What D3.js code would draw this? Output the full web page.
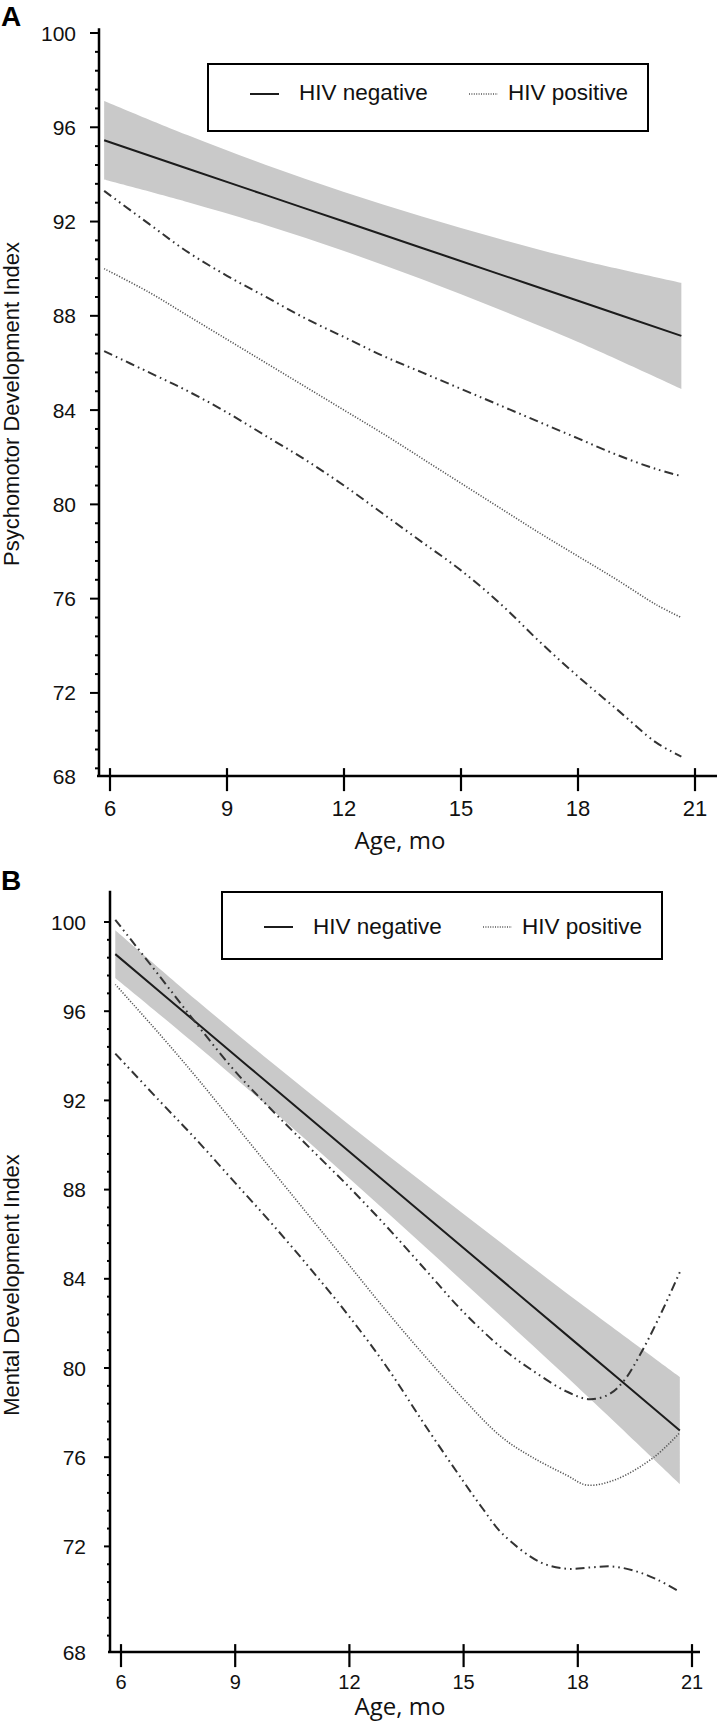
<!DOCTYPE html>
<html><head><meta charset="utf-8">
<script src="https://cdn.jsdelivr.net/npm/d3@7"></script>
<style>body{margin:0;background:#fff}svg{display:block}</style>
</head><body>
<svg id="c" width="717" height="1723"></svg>
<script>
// ---------- DATA ----------
const xTicks = [6, 9, 12, 15, 18, 21];
const yTicks = [100, 96, 92, 88, 84, 80, 76, 72];
const legendLabels = ["HIV negative", "HIV positive"];

// Panel A: Psychomotor Development Index
const aAges      = [5.85, 8, 10, 12, 14, 16, 18, 20.65];
const aNeg       = [95.45, 94.24, 93.12, 92.0, 90.88, 89.76, 88.64, 87.15];
const aNegUpper  = [97.12, 95.66, 94.40, 93.25, 92.21, 91.26, 90.39, 89.40];
const aNegLower  = [93.78, 92.82, 91.84, 90.75, 89.55, 88.26, 86.89, 84.90];
const aPosAges   = [5.85, 7, 8, 9, 10, 11, 12, 13, 14, 15, 16, 17, 18, 19, 20, 20.65];
const aPos       = [90.0, 89.0, 88.0, 87.0, 86.0, 85.0, 84.0, 83.0, 81.95, 80.9, 79.85, 78.8, 77.8, 76.8, 75.75, 75.2];
const aPosUpper  = [93.3, 91.9, 90.7, 89.7, 88.8, 87.9, 87.1, 86.3, 85.6, 84.9, 84.2, 83.5, 82.8, 82.1, 81.5, 81.2];
const aPosLower  = [86.5, 85.6, 84.8, 83.9, 82.9, 81.9, 80.8, 79.6, 78.4, 77.2, 75.8, 74.2, 72.7, 71.3, 69.9, 69.3];

// Panel B: Mental Development Index
const bAges      = [5.85, 8, 10, 12, 14, 16, 18, 20.68];
const bNeg       = [98.56, 95.46, 92.58, 89.7, 86.82, 83.94, 81.06, 77.2];
const bNegUpper  = [99.63, 96.47, 93.64, 90.9, 88.23, 85.59, 82.98, 79.6];
const bNegLower  = [97.49, 94.45, 91.52, 88.5, 85.41, 82.29, 79.14, 74.8];
const bPosAges   = [5.85, 7, 8, 9, 10, 11, 12, 13, 14, 15, 16, 16.8, 17.7, 18.24, 19, 20, 20.68];
const bPos       = [97.2, 95.0, 93.0, 90.9, 88.8, 86.7, 84.6, 82.5, 80.5, 78.6, 76.9, 76.0, 75.2, 74.75, 75.0, 76.0, 77.1];
const bUpAges    = [5.85, 7, 8, 9, 10, 11, 12, 13, 14, 15, 16, 16.8, 17.7, 18.3, 18.8, 19.2, 19.7, 20.2, 20.68];
const bPosUpper  = [100.1, 97.6, 95.4, 93.3, 91.5, 89.8, 88.1, 86.3, 84.4, 82.5, 80.9, 79.9, 78.95, 78.6, 78.8, 79.4, 80.8, 82.5, 84.3];
const bLoAges    = [5.85, 7, 8, 9, 10, 11, 12, 13, 14, 15, 15.5, 16, 17, 17.7, 18.3, 18.9, 19.5, 20.1, 20.68];
const bPosLower  = [94.1, 92.0, 90.2, 88.3, 86.4, 84.4, 82.3, 80.0, 77.4, 74.9, 73.7, 72.6, 71.3, 71.0, 71.05, 71.1, 70.9, 70.5, 69.96];

// ---------- DRAW ----------
const svg = d3.select("#c");
const FONT = "'Liberation Sans', Arial, sans-serif";
const dashDot = "9,4,1.6,4,1.6,4";
const dotted = "1.2,1.6";

function panel(cfg) {
  const g = svg.append("g");
  const x = d3.scaleLinear().domain([6, 21]).range(cfg.xRange);
  const y = d3.scaleLinear().domain([68, 100]).range(cfg.yRange);
  const axisY = y(cfg.yMin), axisTop = y(cfg.yMax);

  const area = d3.area().x((d, i) => x(cfg.ages[i])).y0((d, i) => y(cfg.lower[i])).y1((d, i) => y(cfg.upper[i]))
    .curve(d3.curveCatmullRom.alpha(0.5));
  g.append("path").datum(cfg.ages).attr("d", area).attr("fill", "#c9c9c9");

  const line = (ages, vals) => d3.line().x((d, i) => x(ages[i])).y((d, i) => y(vals[i]))
    .curve(d3.curveCatmullRom.alpha(0.5))(vals);

  g.append("path").attr("d", line(cfg.ages, cfg.neg)).attr("fill", "none").attr("stroke", "#1c1c1c").attr("stroke-width", 2);
  g.append("path").attr("d", line(cfg.posAges, cfg.pos)).attr("fill", "none").attr("stroke", "#555").attr("stroke-width", 1.6).attr("stroke-dasharray", dotted);
  g.append("path").attr("d", line(cfg.upAges, cfg.posUp)).attr("fill", "none").attr("stroke", "#333").attr("stroke-width", 2).attr("stroke-dasharray", dashDot);
  g.append("path").attr("d", line(cfg.loAges, cfg.posLo)).attr("fill", "none").attr("stroke", "#333").attr("stroke-width", 2).attr("stroke-dasharray", dashDot);

  // y axis
  const ax = cfg.xRange0;
  g.append("line").attr("x1", ax).attr("x2", ax).attr("y1", axisTop).attr("y2", axisY).attr("stroke", "#000").attr("stroke-width", 2.5);
  const minor = d3.range(0, 41).map(i => 68 + i * 0.8).filter(v => y(v) <= axisY - 2 && y(v) >= axisTop + 2 && !yTicks.includes(Math.round(v * 10) / 10));
  g.selectAll(null).data(minor).enter().append("line")
    .attr("x1", ax - cfg.minorLen).attr("x2", ax).attr("y1", d => y(d)).attr("y2", d => y(d)).attr("stroke", "#000").attr("stroke-width", 2);
  g.selectAll(null).data(yTicks).enter().append("line")
    .attr("x1", ax - cfg.majorLen).attr("x2", ax).attr("y1", d => y(d)).attr("y2", d => y(d)).attr("stroke", "#000").attr("stroke-width", 2);
  g.selectAll(null).data(yTicks).enter().append("text")
    .attr("x", cfg.labelX).attr("y", d => y(d)).attr("dy", "0.36em").attr("text-anchor", "end")
    .attr("font-family", FONT).attr("font-size", 21).attr("fill", "#111").text(d => d);
  g.append("text").attr("x", cfg.labelX).attr("y", axisY).attr("dy", "0.36em").attr("text-anchor", "end")
    .attr("font-family", FONT).attr("font-size", 21).attr("fill", "#111").text(68);

  // x axis
  g.append("line").attr("x1", ax - 2).attr("x2", cfg.xAxisEnd).attr("y1", axisY).attr("y2", axisY).attr("stroke", "#000").attr("stroke-width", 2.5);
  g.selectAll(null).data(xTicks).enter().append("line")
    .attr("x1", d => x(d)).attr("x2", d => x(d)).attr("y1", axisY - 8).attr("y2", axisY + 15).attr("stroke", "#000").attr("stroke-width", 2.2);
  g.selectAll(null).data(xTicks).enter().append("text")
    .attr("x", d => x(d)).attr("y", cfg.xLabelY).attr("text-anchor", "middle")
    .attr("font-family", FONT).attr("font-size", cfg.xLabelSize).attr("fill", "#111").text(d => d);
  g.append("text").attr("x", 400).attr("y", cfg.xTitleY).attr("text-anchor", "middle")
    .attr("font-family", "'Open Sans', sans-serif").attr("font-size", 24).attr("fill", "#111").text("Age, mo");
  g.append("text").attr("transform", `translate(${cfg.yTitleX},${cfg.yTitleY}) rotate(-90)`).attr("text-anchor", "middle")
    .attr("font-family", FONT).attr("font-size", 22).attr("fill", "#111").text(cfg.yTitle);

  g.append("text").attr("x", 1).attr("y", cfg.letterY).attr("font-family", FONT).attr("font-weight", "bold")
    .attr("font-size", 28).attr("fill", "#000").text(cfg.letter);

  // legend
  const L = cfg.legend;
  g.append("rect").attr("x", L.x).attr("y", L.y).attr("width", L.w).attr("height", L.h)
    .attr("fill", "#fff").attr("stroke", "#000").attr("stroke-width", 2);
  g.append("line").attr("x1", L.x + 42).attr("x2", L.x + 71).attr("y1", L.sy).attr("y2", L.sy).attr("stroke", "#1c1c1c").attr("stroke-width", 2);
  g.append("text").attr("x", L.x + 91).attr("y", L.ty).attr("font-family", FONT).attr("font-size", 22.5).attr("fill", "#111").text(legendLabels[0]);
  g.append("line").attr("x1", L.x + 261).attr("x2", L.x + 290).attr("y1", L.sy).attr("y2", L.sy).attr("stroke", "#555").attr("stroke-width", 1.4).attr("stroke-dasharray", "1,1.4");
  g.append("text").attr("x", L.x + 300).attr("y", L.ty).attr("font-family", FONT).attr("font-size", 22.5).attr("fill", "#111").text(legendLabels[1]);
}

panel({
  letter: "A", letterY: 26,
  xRange: [110, 695], xRange0: 99, yRange: [787.2, 33], yMin: 68.47, yMax: 100.2,
  minorLen: 4, majorLen: 9, labelX: 76, xAxisEnd: 717,
  xLabelY: 816, xLabelSize: 22, xTitleY: 849,
  yTitle: "Psychomotor Development Index", yTitleX: 19, yTitleY: 404,
  ages: aAges, neg: aNeg, upper: aNegUpper, lower: aNegLower,
  posAges: aPosAges, pos: aPos, upAges: aPosAges, posUp: aPosUpper, loAges: aPosAges, posLo: aPosLower,
  legend: { x: 208, y: 64, w: 440, h: 67, sy: 94, ty: 100 }
});

panel({
  letter: "B", letterY: 890,
  xRange: [121, 692], xRange0: 110, yRange: [1635.6, 922], yMin: 67.26, yMax: 101.4,
  minorLen: 3, majorLen: 6, labelX: 86, xAxisEnd: 700,
  xLabelY: 1689, xLabelSize: 20, xTitleY: 1715,
  yTitle: "Mental Development Index", yTitleX: 19, yTitleY: 1285,
  ages: bAges, neg: bNeg, upper: bNegUpper, lower: bNegLower,
  posAges: bPosAges, pos: bPos, upAges: bUpAges, posUp: bPosUpper, loAges: bLoAges, posLo: bPosLower,
  legend: { x: 222, y: 892, w: 440, h: 67, sy: 927, ty: 934 }
});
</script>
</body></html>
